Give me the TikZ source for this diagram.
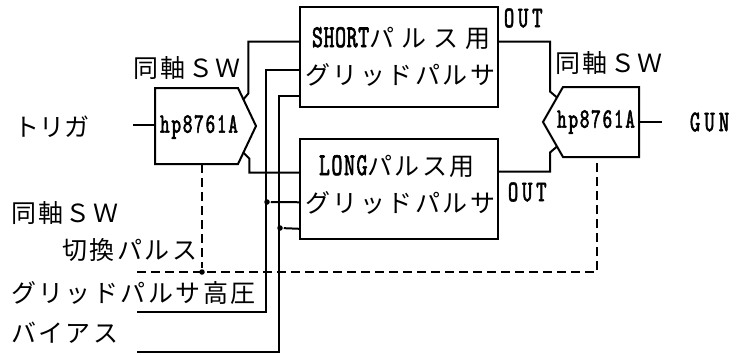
\documentclass[tikz,border=0pt]{standalone}
\usepackage{fontspec}
\newfontfamily\jp{Noto Sans CJK JP}
\newfontfamily\lat{lmmono10-regular.otf}[FakeStretch=0.65,FakeBold=2]
\newcommand\jpt[2][10]{{\jp\fontsize{25}{25}\selectfont\addfontfeatures{LetterSpace=#1}#2}}
\newcommand\latt[3][0]{{\lat\fontsize{#2}{#2}\selectfont\addfontfeatures{LetterSpace=#1}#3}}
\usetikzlibrary{calc}
\begin{document}
\begin{tikzpicture}[x=1pt,y=-1pt,line width=2pt,
  dashwire/.style={draw,line width=2pt,dash pattern=on 9pt off 5pt},
  box/.style={draw,line width=2pt,rectangle,minimum width=198pt,minimum height=100pt,inner sep=0pt},
  lbl/.style={inner sep=0pt,anchor=west},
  dot/.style={circle,fill,inner sep=0pt,minimum size=5.5pt}]
\useasboundingbox (0,0) rectangle (742,354);
% pulser boxes
\node[box] (short) at (399,57) {};
\node[box] (long) at (399,189) {};
\node[lbl] (stxt1) at (311,38) {\latt[2]{32}{SHORT}\jpt[28]{パルス用}};
\node[lbl] (stxt2) at (304,75) {\jpt{グリッドパルサ}};
\node[lbl] (ltxt1) at (318,166) {\latt[5]{32}{LONG}\jpt{パルス用}};
\node[lbl] (ltxt2) at (304,203) {\jpt{グリッドパルサ}};
% box ports
\coordinate (s1) at ($(short.north west)!0.35!(short.south west)$);
\coordinate (s2) at ($(short.north west)!0.63!(short.south west)$);
\coordinate (s3) at ($(short.north west)!0.88!(short.south west)$);
\coordinate (l1) at ($(long.north west)!0.34!(long.south west)$);
\coordinate (l2) at ($(long.north west)!0.63!(long.south west)$);
\coordinate (l3) at ($(long.north west)!0.89!(long.south west)$);
\coordinate (so) at ($(short.north east)!0.35!(short.south east)$);
\coordinate (lo) at ($(long.north east)!0.33!(long.south east)$);
% left coaxial switch
\coordinate (lsA) at (155,88);
\coordinate (lsB) at (238,88);
\coordinate (lsP) at (256,126);
\coordinate (lsC) at (238,164);
\coordinate (lsD) at (155,164);
\draw (lsA) -- (lsB) -- (lsP) -- (lsC) -- (lsD) -- cycle;
\node (lsw) at (199,127) {\latt[6.5]{28}{hp8761A}};
% right coaxial switch
\coordinate (rsA) at (563,87);
\coordinate (rsB) at (639,87);
\coordinate (rsC) at (639,157);
\coordinate (rsD) at (563,157);
\coordinate (rsP) at (543,122);
\draw (rsA) -- (rsB) -- (rsC) -- (rsD) -- (rsP) -- cycle;
\node (rsw) at (596,122) {\latt[6.5]{28}{hp8761A}};
% switch to pulsers
\coordinate (lsU) at ($(lsB)!0.3!(lsP)$);
\coordinate (lsL) at ($(lsC)!0.3!(lsP)$);
\draw (lsU) -- ++(5,-6) |- (s1);
\draw (lsL) -- ++(6,6) |- (l1);
\coordinate (rsU) at ($(rsA)!0.3!(rsP)$);
\coordinate (rsL) at ($(rsD)!0.3!(rsP)$);
\draw (rsU) -- ++(-7,-6) |- (so);
\draw (rsL) -- ++(-7,6) |- (lo);
% trigger and gun
\coordinate (trg) at (133,125);
\draw (trg) -- (lsA |- trg);
\node[lbl] (trgt) at (13,127) {\jpt[0]{トリガ}};
\coordinate (gun) at (662,122);
\draw (rsB |- gun) -- (gun);
\node[lbl] (gunt) at (689,122) {\latt[14]{30}{GUN}};
% OUT labels
\node[lbl] (out1) at (503,18) {\latt[13]{30}{OUT}};
\node[lbl] (out2) at (507,192) {\latt[13]{30}{OUT}};
% switch labels
\node[lbl] (swl) at (132,68) {\jpt{同軸ＳＷ}};
\node[lbl] (swr) at (554,63) {\jpt{同軸ＳＷ}};
% grid pulser HV and bias
\coordinate (hvS) at (137,312);
\draw (hvS) -| ($(s2)+(-33,0)$) -- (s2);
\node[dot] (hvd) at (267,202) {};
\draw (hvd) -- (l2);
\coordinate (biS) at (137,352);
\draw (biS) -| ($(s3)+(-20,0)$) -- (s3);
\node[dot] (bid) at (280,228) {};
\draw (bid) -- (l3);
% switching pulse (dashed)
\coordinate (lsbot) at (202,164);
\node[dot] (cpd) at (202,272) {};
\draw[dashwire] (lsbot) -- (cpd);
\coordinate (cpS) at (137,272);
\coordinate (cpE) at (597,272);
\coordinate (rsbot) at (597,157);
\draw[dashwire] (cpS) -- (cpE) -- (rsbot);
% left labels
\node[lbl] (sw2a) at (10,213) {\jpt{同軸ＳＷ}};
\node[lbl] (sw2b) at (61,250) {\jpt{切換パルス}};
\node[lbl] (hvt) at (10,293) {\jpt{グリッドパルサ高圧}};
\node[lbl] (bit) at (10,333) {\jpt{バイアス}};
\end{tikzpicture}
\end{document}
